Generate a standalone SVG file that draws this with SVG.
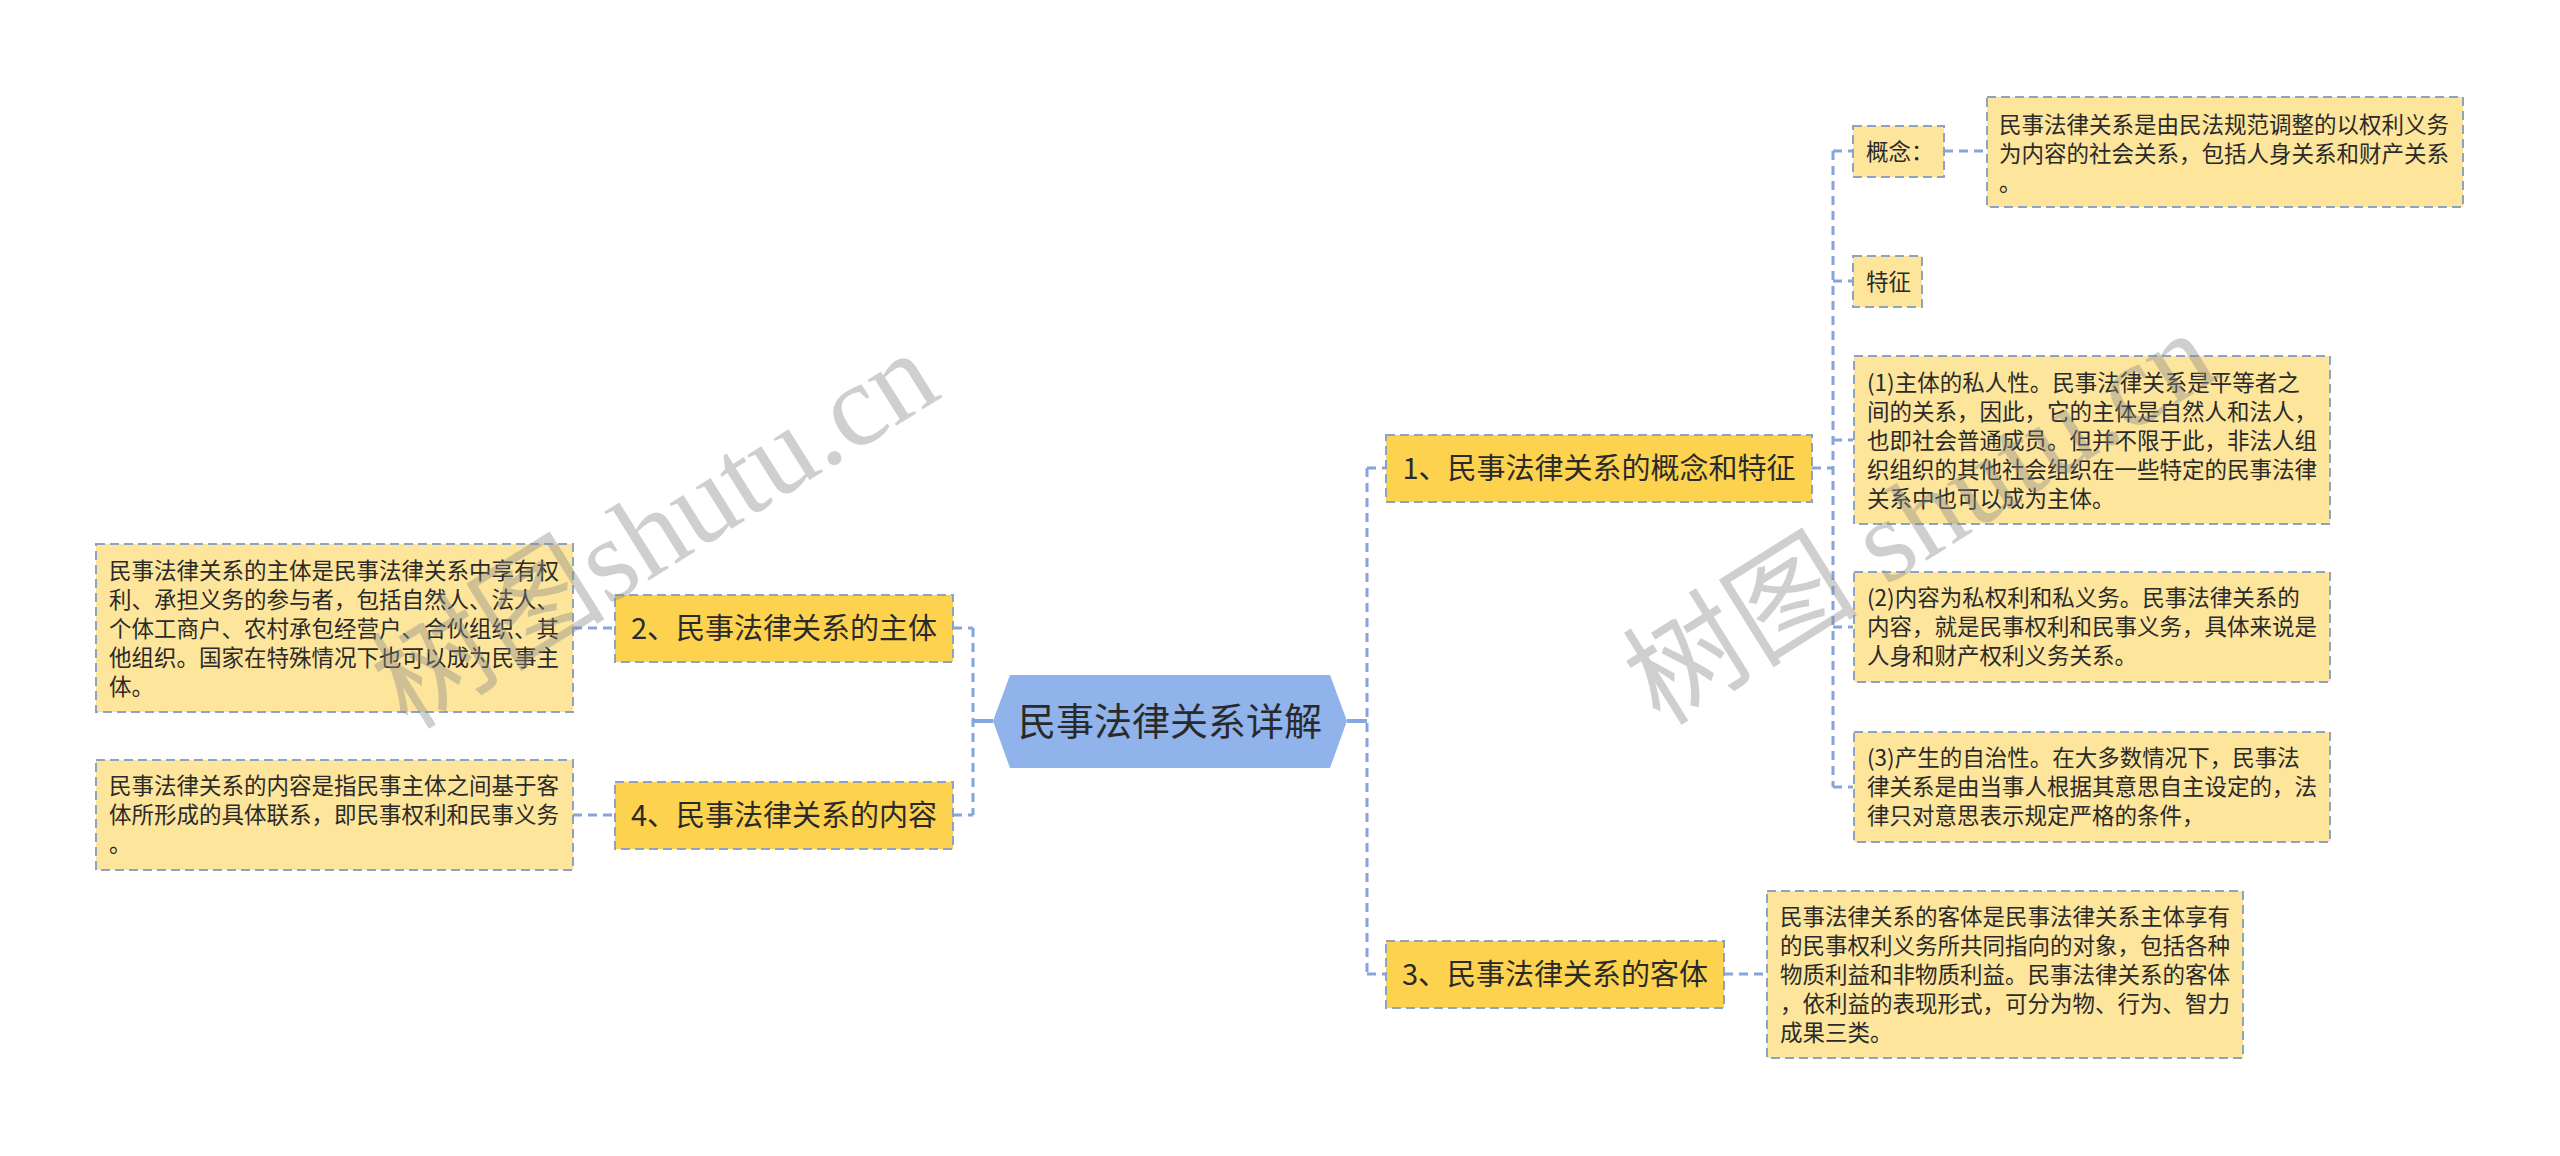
<svg xmlns="http://www.w3.org/2000/svg" width="2560" height="1156" viewBox="0 0 2560 1156">
<style>
text{font-family:"Noto Sans CJK SC","Noto Sans",sans-serif;fill:#2a2a2a}
.conn{fill:none;stroke:#86a5dc;stroke-width:3;stroke-dasharray:9 6}
.solid{fill:none;stroke:#86a8e2;stroke-width:4}
.main rect{fill:#fdd24f;stroke:#8ea3c4;stroke-width:2;stroke-dasharray:9 5}
.leaf rect{fill:#fde59c;stroke:#8ea3c4;stroke-width:2;stroke-dasharray:9 5}
.main text{font-size:29px}
.leaf text{font-size:22.5px}
.wm{font-family:"Liberation Serif","Noto Sans CJK SC",serif;font-size:118px;fill:#8a8a8a;opacity:0.4}
</style>
<rect width="2560" height="1156" fill="#ffffff"/>
<g id="connectors">
<path class="solid" d="M993,721 H973"/>
<path class="conn" d="M973,628 V815 M953,628 H973 M953,815 H973"/>
<path class="conn" d="M573,628 H615 M573,815 H615"/>
<path class="solid" d="M1347,721 H1367"/>
<path class="conn" d="M1367,468 V974 M1367,468 H1386 M1367,974 H1386"/>
<path class="conn" d="M1812,468 H1833 M1833,151 V787 M1833,151 H1853 M1833,281 H1853 M1833,440 H1853 M1833,627 H1853 M1833,787 H1853"/>
<path class="conn" d="M1944,151 H1987"/>
<path class="conn" d="M1724,974 H1767"/>
</g>
<g id="root">
<polygon points="993,721 1010,675 1330,675 1347,721 1330,768 1010,768" fill="#8fb3ea"/>
<text x="1170" y="735" font-size="38" text-anchor="middle">民事法律关系详解</text>
</g>
<g id="n1" class="main">
<rect x="1386" y="435" width="426" height="67"/>
<text x="1599" y="479" text-anchor="middle">1、民事法律关系的概念和特征</text>
</g>
<g id="n2" class="main">
<rect x="615" y="595" width="338" height="67"/>
<text x="784" y="639" text-anchor="middle">2、民事法律关系的主体</text>
</g>
<g id="n3" class="main">
<rect x="1386" y="941" width="338" height="67"/>
<text x="1555" y="985" text-anchor="middle">3、民事法律关系的客体</text>
</g>
<g id="n4" class="main">
<rect x="615" y="782" width="338" height="67"/>
<text x="784" y="826" text-anchor="middle">4、民事法律关系的内容</text>
</g>
<g id="concept" class="leaf">
<rect x="1853" y="126" width="91" height="51"/>
<text x="1866" y="160">概念：</text>
</g>
<g id="concept-text" class="leaf">
<rect x="1987" y="97" width="476" height="110"/>
<text x="1999" y="133">民事法律关系是由民法规范调整的以权利义务</text>
<text x="1999" y="162">为内容的社会关系，包括人身关系和财产关系</text>
<text x="1999" y="191">。</text>
</g>
<g id="feature" class="leaf">
<rect x="1853" y="256" width="69" height="51"/>
<text x="1866" y="290">特征</text>
</g>
<g id="f1" class="leaf">
<rect x="1854" y="356" width="476" height="168"/>
<text x="1867" y="391">(1)主体的私人性。民事法律关系是平等者之</text>
<text x="1867" y="420">间的关系，因此，它的主体是自然人和法人，</text>
<text x="1867" y="449">也即社会普通成员。但并不限于此，非法人组</text>
<text x="1867" y="478">织组织的其他社会组织在一些特定的民事法律</text>
<text x="1867" y="507">关系中也可以成为主体。</text>
</g>
<g id="f2" class="leaf">
<rect x="1854" y="572" width="476" height="110"/>
<text x="1867" y="606">(2)内容为私权利和私义务。民事法律关系的</text>
<text x="1867" y="635">内容，就是民事权利和民事义务，具体来说是</text>
<text x="1867" y="664">人身和财产权利义务关系。</text>
</g>
<g id="f3" class="leaf">
<rect x="1854" y="732" width="476" height="110"/>
<text x="1867" y="766">(3)产生的自治性。在大多数情况下，民事法</text>
<text x="1867" y="795">律关系是由当事人根据其意思自主设定的，法</text>
<text x="1867" y="824">律只对意思表示规定严格的条件，</text>
</g>
<g id="n3-text" class="leaf">
<rect x="1767" y="891" width="476" height="167"/>
<text x="1780" y="925">民事法律关系的客体是民事法律关系主体享有</text>
<text x="1780" y="954">的民事权利义务所共同指向的对象，包括各种</text>
<text x="1780" y="983">物质利益和非物质利益。民事法律关系的客体</text>
<text x="1780" y="1012">，依利益的表现形式，可分为物、行为、智力</text>
<text x="1780" y="1041">成果三类。</text>
</g>
<g id="n2-text" class="leaf">
<rect x="96" y="544" width="477" height="168"/>
<text x="109" y="579">民事法律关系的主体是民事法律关系中享有权</text>
<text x="109" y="608">利、承担义务的参与者，包括自然人、法人、</text>
<text x="109" y="637">个体工商户、农村承包经营户、合伙组织、其</text>
<text x="109" y="666">他组织。国家在特殊情况下也可以成为民事主</text>
<text x="109" y="695">体。</text>
</g>
<g id="n4-text" class="leaf">
<rect x="96" y="760" width="477" height="110"/>
<text x="109" y="794">民事法律关系的内容是指民事主体之间基于客</text>
<text x="109" y="823">体所形成的具体联系，即民事权利和民事义务</text>
<text x="109" y="852">。</text>
</g>
<g id="watermarks">
<text class="wm" x="655" y="530" text-anchor="middle" dominant-baseline="central" transform="rotate(-32 655 530)">树图shutu.cn</text>
<text class="wm" x="1920" y="518" text-anchor="middle" dominant-baseline="central" transform="rotate(-32 1920 518)">树图 shutu.cn</text>
</g>
</svg>
